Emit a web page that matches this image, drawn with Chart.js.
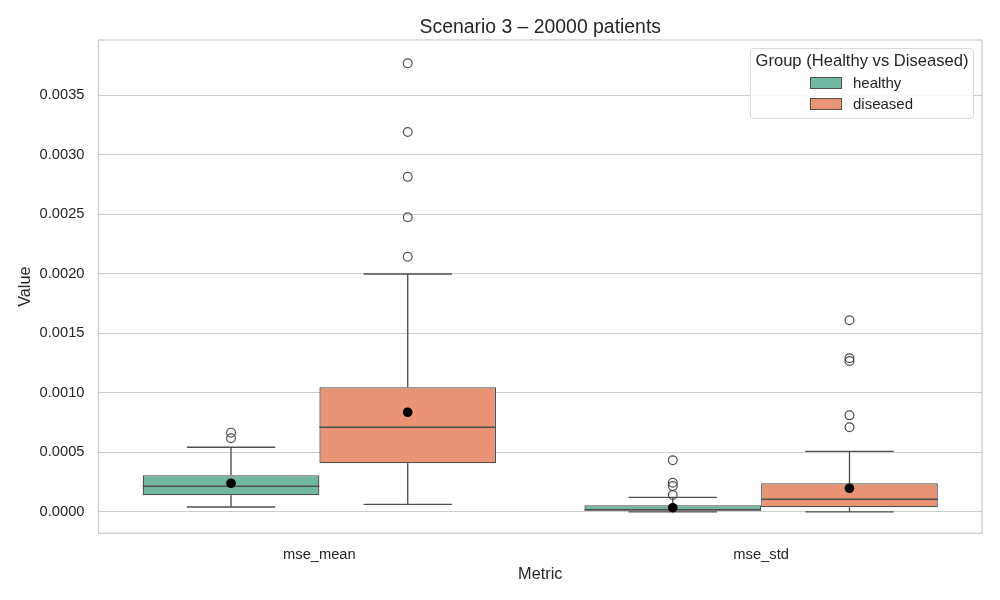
<!DOCTYPE html>
<html>
<head>
<meta charset="utf-8">
<script src="https://cdn.jsdelivr.net/npm/chart.js@4/dist/chart.umd.min.js"></script>
<style>
  html, body { margin: 0; padding: 0; background: #ffffff; }
  #wrap { position: relative; width: 1000px; height: 600px; font-family: "Liberation Sans", Arial, sans-serif; color: #262626; }
  #c { position: absolute; left: 0; top: 0; }
  #legend { position: absolute; left: 750px; top: 48px; width: 224px; height: 71px; border: 1px solid #d9d9d9; border-radius: 4px; background: rgba(255,255,255,0.85); box-sizing: border-box; }
  #legend .ttl { position: absolute; left: 0; right: 0; top: 2px; text-align: center; font-size: 16.6px; line-height: 20px; white-space: nowrap; }
  #legend .row { position: absolute; left: 0; height: 20px; width: 100%; }
  #legend .patch { position: absolute; left: 59px; top: 4px; width: 30px; height: 10px; border: 1.25px solid #515151; }
  #legend .lab { position: absolute; left: 102px; top: 0; font-size: 15px; line-height: 19px; white-space: nowrap; }
</style>
</head>
<body>
<div id="wrap">
  <canvas id="c" width="1000" height="600"></canvas>
  <div id="legend"></div>
</div>
<script>
// ---- data ----
const categories = ['mse_mean', 'mse_std'];
const seriesNames = ['healthy', 'diseased'];
const seriesColors = ['#71b7a1', '#e99575'];

const healthyQ1 = [0.000140, 0.0000143];
const healthyMedian = [0.000216, 0.0000165];
const healthyQ3 = [0.000308, 0.0000562];
const healthyWhiskerLow = [0.000042, 0.0000005];
const healthyWhiskerHigh = [0.000543, 0.000123];
const healthyMean = [0.000241, 0.000036];
const healthyOutliers = [[0.000666, 0.000619], [0.000434, 0.000245, 0.000217, 0.000143]];

const diseasedQ1 = [0.000409, 0.000040];
const diseasedMedian = [0.000711, 0.000107];
const diseasedQ3 = [0.001047, 0.000241];
const diseasedWhiskerLow = [0.000064, 0.0000005];
const diseasedWhiskerHigh = [0.001998, 0.000509];
const diseasedMean = [0.000837, 0.000199];
const diseasedOutliers = [[0.003766, 0.003190, 0.002813, 0.002474, 0.002143], [0.001609, 0.001290, 0.001267, 0.000811, 0.000711]];

const yTicks = [0, 0.0005, 0.001, 0.0015, 0.002, 0.0025, 0.003, 0.0035];
const yMin = -0.000179;
const yMax = 0.003962;

const stats = [
  { q1: healthyQ1, med: healthyMedian, q3: healthyQ3, lo: healthyWhiskerLow, hi: healthyWhiskerHigh, mean: healthyMean, out: healthyOutliers },
  { q1: diseasedQ1, med: diseasedMedian, q3: diseasedQ3, lo: diseasedWhiskerLow, hi: diseasedWhiskerHigh, mean: diseasedMean, out: diseasedOutliers }
];

// ---- legend (HTML) ----
const legend = document.getElementById('legend');
legend.innerHTML = '<div class="ttl">Group (Healthy vs Diseased)</div>' +
  seriesNames.map((n, i) => '<div class="row" style="top:' + (24 + i * 20.5) + 'px"><div class="patch" style="background:' + seriesColors[i] + '"></div><div class="lab">' + n + '</div></div>').join('');

const FONT = '"Liberation Sans", Arial, sans-serif';
const LINE = '#4f4f4f';

const framePlugin = {
  id: 'frame',
  beforeDatasetsDraw(chart) {
    const { ctx, chartArea: a } = chart;
    ctx.save();
    ctx.strokeStyle = '#cccccc';
    ctx.lineWidth = 1.25;
    ctx.strokeRect(a.left, a.top, a.right - a.left, a.bottom - a.top);
    ctx.restore();
  }
};

const boxPlugin = {
  id: 'boxparts',
  afterDatasetsDraw(chart) {
    const { ctx } = chart;
    const ys = chart.scales.y;
    ctx.save();
    chart.data.datasets.forEach((ds, di) => {
      const meta = chart.getDatasetMeta(di);
      const s = stats[di];
      meta.data.forEach((bar, j) => {
        const { x, width } = bar.getProps(['x', 'width'], true);
        const half = width / 2;
        const yv = v => ys.getPixelForValue(v);
        ctx.strokeStyle = LINE;
        ctx.lineWidth = 1.35;
        ctx.beginPath();
        // median
        ctx.moveTo(x - half, yv(s.med[j])); ctx.lineTo(x + half, yv(s.med[j]));
        // whiskers
        ctx.moveTo(x, yv(s.q3[j])); ctx.lineTo(x, yv(s.hi[j]));
        ctx.moveTo(x, yv(s.q1[j])); ctx.lineTo(x, yv(s.lo[j]));
        // caps
        ctx.moveTo(x - half / 2, yv(s.hi[j])); ctx.lineTo(x + half / 2, yv(s.hi[j]));
        ctx.moveTo(x - half / 2, yv(s.lo[j])); ctx.lineTo(x + half / 2, yv(s.lo[j]));
        ctx.stroke();
        // outliers
        ctx.lineWidth = 1.2;
        s.out[j].forEach(v => {
          ctx.beginPath();
          ctx.arc(x, yv(v), 4.4, 0, Math.PI * 2);
          ctx.stroke();
        });
        // mean
        ctx.fillStyle = '#000000';
        ctx.beginPath();
        ctx.arc(x, yv(s.mean[j]), 4.8, 0, Math.PI * 2);
        ctx.fill();
      });
    });
    ctx.restore();
  }
};

new Chart(document.getElementById('c'), {
  type: 'bar',
  data: {
    labels: categories,
    datasets: stats.map((s, i) => ({
      label: seriesNames[i],
      data: categories.map((c, j) => [s.q1[j], s.q3[j]]),
      backgroundColor: seriesColors[i],
      borderColor: LINE,
      borderWidth: 1.3,
      borderSkipped: false,
      barPercentage: 1,
      categoryPercentage: 0.8
    }))
  },
  options: {
    responsive: false,
    animation: false,
    devicePixelRatio: 1,
    layout: { padding: { left: 0, right: 18, top: 0, bottom: 0 } },
    plugins: {
      legend: { display: false },
      tooltip: { enabled: false },
      title: {
        display: true,
        fullSize: false,
        text: 'Scenario 3 – 20000 patients',
        color: '#262626',
        font: { family: FONT, size: 19.4, weight: 'normal', lineHeight: 1.2 },
        padding: { top: 16.4, bottom: 0.3 }
      }
    },
    scales: {
      x: {
        type: 'category',
        grid: { display: false, drawTicks: false },
        border: { display: false },
        ticks: { color: '#262626', font: { family: FONT, size: 14.7 }, padding: 13 },
        title: { display: true, text: 'Metric', color: '#262626', font: { family: FONT, size: 16.3, lineHeight: 1.2 }, padding: { top: 0, bottom: 15.5 } },
        afterFit(scale) { scale.height = 66.7; }
      },
      y: {
        type: 'linear',
        min: yMin,
        max: yMax,
        grid: { color: '#cccccc', lineWidth: 1, drawTicks: false },
        border: { display: false },
        afterBuildTicks(scale) { scale.ticks = yTicks.map(v => ({ value: v })); },
        ticks: {
          color: '#262626',
          font: { family: FONT, size: 14.7 },
          padding: 14,
          callback: v => Number(v).toFixed(4)
        },
        title: { display: true, text: 'Value', color: '#262626', font: { family: FONT, size: 16.3, lineHeight: 1.2 }, padding: { top: 16, bottom: 0 } },
        afterFit(scale) { scale.width = 98.5; }
      }
    }
  },
  plugins: [framePlugin, boxPlugin]
});
</script>
</body>
</html>
